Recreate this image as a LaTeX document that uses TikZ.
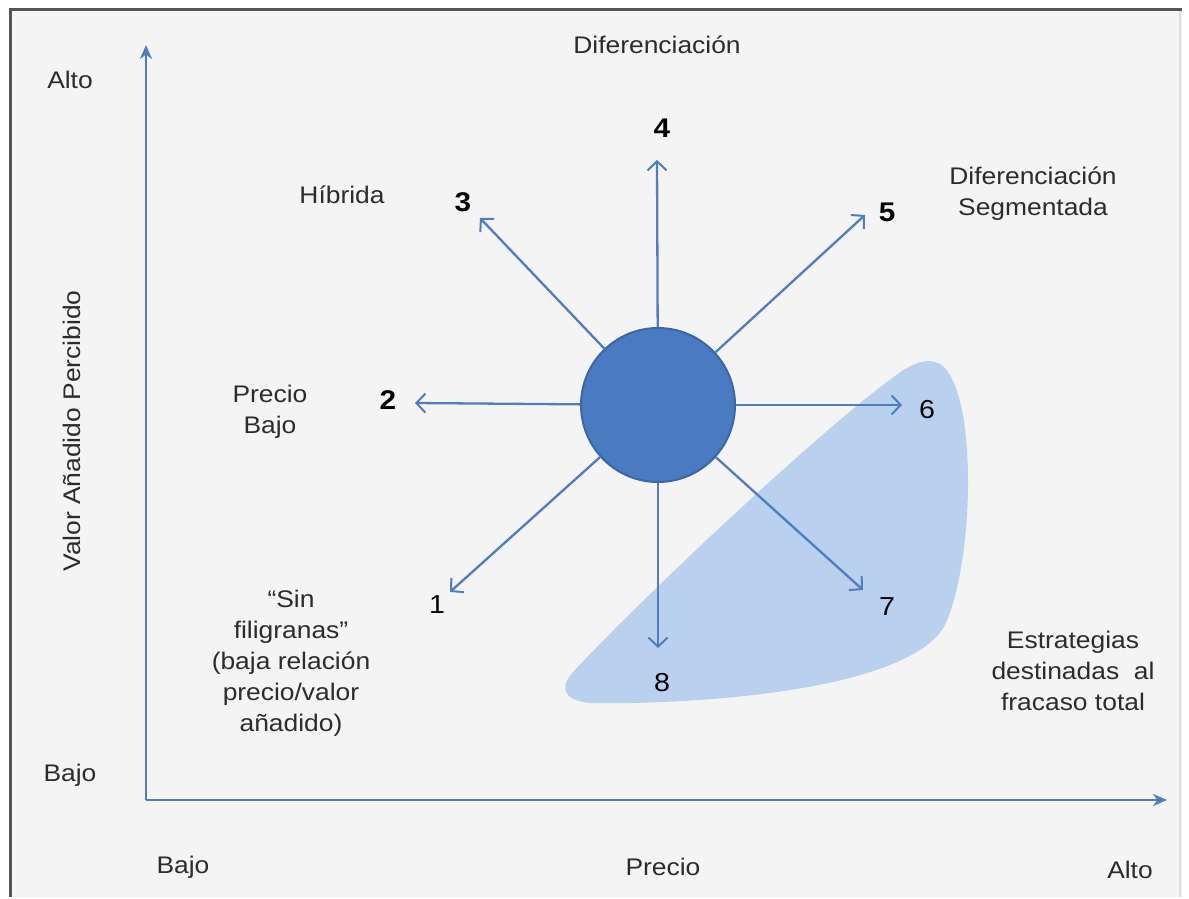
\documentclass[tikz,border=0pt]{standalone}
\usepackage{fontspec}
\setmainfont{Liberation Sans}[FakeStretch=1.1]
\usetikzlibrary{arrows.meta}
\definecolor{bg}{HTML}{F4F4F4}
\definecolor{arrblue}{HTML}{4E7DC0}
\definecolor{circfill}{HTML}{4A7BC1}
\definecolor{circline}{HTML}{3A67A6}
\definecolor{blob}{HTML}{B9D0EE}
\definecolor{txt}{HTML}{2C2C2C}
\definecolor{axis}{HTML}{4F7CBF}
\definecolor{frame}{HTML}{555555}
\definecolor{frameR}{HTML}{DDDDDD}
\begin{document}
\begin{tikzpicture}[x=1pt,y=-1pt,
  lbl/.style={text=txt, font=\fontsize{24}{31}\selectfont, align=center, inner sep=0pt},
  num/.style={text=black, font=\fontsize{26}{30}\selectfont, inner sep=0pt},
  bnum/.style={text=black, font=\fontsize{27}{30}\selectfont\bfseries, inner sep=0pt},
  ray/.style={draw=arrblue, line width=2.3pt, -{Straight Barb[length=9pt,width=19pt,line width=2pt]}},
  axisline/.style={draw=axis, line width=2.8pt, -{Stealth[length=14pt,width=12pt]}}]
% canvas
\fill[white] (0,0) rectangle (1189,897);
\fill[bg] (10,10) rectangle (1182,897);
\draw[frameR, line width=1.5pt] (1180,10) -- (1180,897);
\draw[frame, line width=3pt] (10,897) -- (10,10) -- (1182,10);
% shaded region
\fill[blob] (940,364) .. controls (978,388) and (975,560) .. (945,625)
  .. controls (910,690) and (700,705) .. (590,703)
  .. controls (560,700) and (560,685) .. (575,670)
  .. controls (640,600) and (820,430) .. (895,376)
  .. controls (912,363) and (928,357) .. (940,364) -- cycle;
% axes
\coordinate (o) at (146,800);
\coordinate (ytop) at (146,45);
\coordinate (xend) at (1167,800);
\draw[axisline] (o) -- (ytop);
\draw[axisline] (o) -- (xend);
% centre
\node[circle, fill=circfill, draw=circline, line width=2pt, minimum size=154pt, inner sep=0pt] (c) at (658,405) {};
\coordinate (e1) at (450,592);
\coordinate (e2) at (415,403);
\coordinate (e3) at (480,218);
\coordinate (e4) at (657,160);
\coordinate (e5) at (865,215);
\coordinate (e6) at (902,405);
\coordinate (e7) at (863,590);
\coordinate (e8) at (658,648);
\foreach \i in {1,...,8} {\draw[ray] (c) -- (e\i);}
% numbers
\node[num] (n1) at (437,605) {1};
\node[bnum] (n2) at (388,400) {2};
\node[bnum] (n3) at (463,202) {3};
\node[bnum] (n4) at (662,128) {4};
\node[bnum] (n5) at (887,212) {5};
\node[num] (n6) at (927,410) {6};
\node[num] (n7) at (887,607) {7};
\node[num] (n8) at (662,683) {8};
% labels
\node[lbl] (dif) at (657,45) {Diferenciación};
\node[lbl] (alto) at (70,80) {Alto};
\node[lbl, rotate=90] (vap) at (72,431) {Valor Añadido Percibido};
\node[lbl] (bajoy) at (70,775) {Bajo};
\node[lbl] (bajox) at (183,867) {Bajo};
\node[lbl] (precio) at (663,867) {Precio};
\node[lbl] (altox) at (1130,870) {Alto};
\node[lbl] (hib) at (342,195) {Híbrida};
\node[lbl] (difseg) at (1033,194) {Diferenciación\\Segmentada};
\node[lbl] (pb) at (270,412) {Precio\\Bajo};
\node[lbl] (sf) at (291,663) {“Sin\\filigranas”\\(baja relación\\precio/valor\\añadido)};
\node[lbl] (est) at (1073,671) {Estrategias\\destinadas\ \ al\\fracaso total};
\end{tikzpicture}
\end{document}
